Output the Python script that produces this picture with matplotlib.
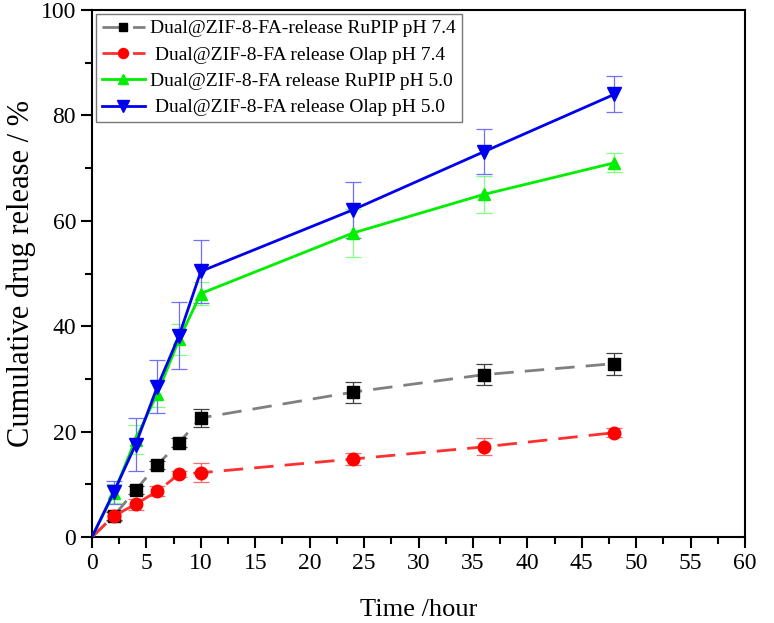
import matplotlib
matplotlib.use('Agg')
import matplotlib.pyplot as plt
from matplotlib.ticker import MultipleLocator

plt.rcParams['font.family'] = ['Liberation Serif', 'DejaVu Serif']

# time points (hours)
t = [0, 2, 4, 6, 8, 10, 24, 36, 48]

# cumulative release (%) and error bars
rupip_74 = [0, 4.0, 8.9, 13.7, 17.9, 22.6, 27.5, 30.8, 32.9]
rupip_74_err = [0, 0.8, 0.8, 0.8, 0.8, 1.7, 2.0, 2.0, 2.1]
olap_74 = [0, 4.0, 6.2, 8.7, 11.9, 12.2, 14.8, 17.1, 19.8]
olap_74_err = [0, 1.0, 1.0, 1.0, 0.6, 1.8, 1.2, 1.6, 0.8]
rupip_50 = [0, 8.3, 18.5, 27.2, 37.5, 46.2, 57.7, 65.0, 71.0]
rupip_50_err = [0, 1.8, 2.8, 2.5, 3.0, 2.2, 4.5, 3.5, 1.8]
olap_50 = [0, 8.5, 17.5, 28.5, 38.2, 50.4, 62.1, 73.1, 84.0]
olap_50_err = [0, 2.2, 5.0, 5.0, 6.3, 6.0, 5.3, 4.3, 3.4]

labels = ['Dual@ZIF-8-FA-release RuPIP pH 7.4',
          ' Dual@ZIF-8-FA release Olap pH 7.4',
          'Dual@ZIF-8-FA release RuPIP pH 5.0',
          ' Dual@ZIF-8-FA release Olap pH 5.0']

fig = plt.figure(figsize=(7.74, 6.23), dpi=100)
ax = fig.add_axes([92 / 774, 1 - 537 / 623, 653 / 774, 527 / 623])

mk = list(range(1, len(t)))

# error bars (thin, pale)
ax.errorbar(t[1:], rupip_74[1:], yerr=rupip_74_err[1:], fmt='none',
            ecolor='#404040', elinewidth=0.9, capsize=6, capthick=0.9, zorder=2)
ax.errorbar(t[1:], olap_74[1:], yerr=olap_74_err[1:], fmt='none',
            ecolor='#ff6666', elinewidth=0.9, capsize=6, capthick=0.9, zorder=2)
ax.errorbar(t[1:], rupip_50[1:], yerr=rupip_50_err[1:], fmt='none',
            ecolor='#80ff80', elinewidth=0.9, capsize=6, capthick=0.9, zorder=2)
ax.errorbar(t[1:], olap_50[1:], yerr=olap_50_err[1:], fmt='none',
            ecolor='#7070ff', elinewidth=0.9, capsize=6, capthick=0.9, zorder=2)

l1, = ax.plot(t, rupip_74, color='#808080', ls=(0, (7, 4)), lw=2,
              marker='s', ms=8, mfc='black', mec='black', markevery=mk, zorder=3)
l2, = ax.plot(t, olap_74, color='#ff3030', ls=(0, (7, 4)), lw=2,
              marker='o', ms=9, mfc='red', mec='red', markevery=mk, zorder=3)
l3, = ax.plot(t, rupip_50, color='#00ee00', lw=2,
              marker='^', ms=9, mfc='#00ee00', mec='#00ee00', markevery=mk, zorder=4)
l4, = ax.plot(t, olap_50, color='#0000ee', lw=2,
              marker='v', ms=10, mfc='#0000ee', mec='#0000ee', markevery=mk, zorder=5)

ax.set_xlim(0, 60)
ax.set_ylim(0, 100)
ax.xaxis.set_major_locator(MultipleLocator(5))
ax.xaxis.set_minor_locator(MultipleLocator(2.5))
ax.yaxis.set_major_locator(MultipleLocator(20))
ax.yaxis.set_minor_locator(MultipleLocator(10))
ax.tick_params(which='major', direction='out', length=8, width=1.5, labelsize=17)
ax.tick_params(which='minor', direction='out', length=5, width=1.5)
for s in ax.spines.values():
    s.set_linewidth(1.5)

ax.set_xlabel('Time /hour', fontsize=19, labelpad=18)
ax.set_ylabel('Cumulative drug release / %', fontsize=22, labelpad=3)

leg = ax.legend([l1, l2, l3, l4], labels, loc='upper left', fontsize=14,
                handlelength=2.2, handletextpad=0.3, borderaxespad=0.2,
                labelspacing=0.45, fancybox=False, edgecolor='#555555',
                borderpad=0.3, markerscale=0.8)
leg.get_frame().set_linewidth(1.0)

fig.savefig('out.png', dpi=100)
